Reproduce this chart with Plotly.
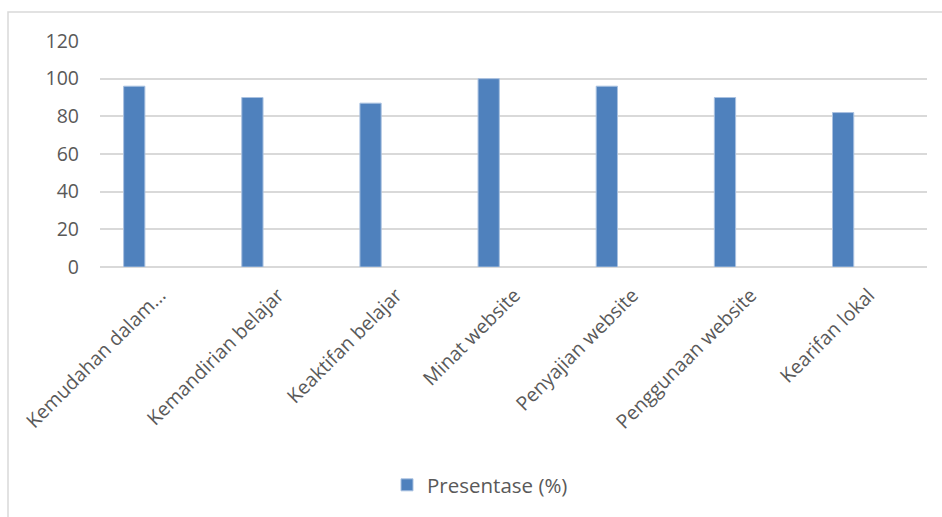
import plotly.graph_objects as go

categories = ["Kemudahan dalam...", "Kemandirian belajar", "Keaktifan belajar",
              "Minat website", "Penyajian website", "Penggunaan website", "Kearifan lokal"]
values = [96, 90, 87, 100, 96, 90, 82]
series_name = "Presentase (%)"
y_ticks = [0, 20, 40, 60, 80, 100, 120]

FONT = "Open Sans"
TXT = "#595959"
GRID = "#d9d9d9"
FS = 19.5

L, R, T, B = 100, 15, 41, 250
W, H = 942, 517
pw, ph = W - L - R, H - T - B

fig = go.Figure()
fig.add_trace(go.Bar(
    x=categories, y=values, name=series_name,
    marker=dict(color="#4f81bd", line=dict(color="#a9c1e0", width=1)),
    width=0.18, offset=-0.30, showlegend=True,
))

fig.update_layout(
    width=W, height=H,
    margin=dict(l=L, r=R, t=T, b=B, pad=0),
    paper_bgcolor="white", plot_bgcolor="white",
    font=dict(family=FONT, color=TXT, size=FS),
    showlegend=True,
    legend=dict(orientation="h", x=(480 - L) / pw, xanchor="center",
                y=(T + ph - 485) / ph, yanchor="middle",
                font=dict(size=20.5, color=TXT), itemwidth=30,
                bgcolor="rgba(0,0,0,0)"),
    xaxis=dict(
        tickangle=-45, showgrid=False, showline=False, zeroline=False,
        ticks="", tickfont=dict(size=FS, color=TXT),
        ticklabelshift=1, ticklabelstandoff=12,
        fixedrange=True,
    ),
    yaxis=dict(
        range=[0, 120], tickvals=y_ticks, showgrid=True, gridcolor=GRID,
        gridwidth=1.5, zeroline=True, zerolinecolor=GRID, zerolinewidth=1.5,
        showline=False, ticks="", tickfont=dict(size=FS, color=TXT),
        ticklabelstandoff=20,
    ),
    shapes=[dict(type="rect", xref="paper", yref="paper",
                 x0=(8 - L) / pw, x1=(960 - L) / pw,
                 y0=(T + ph - 540) / ph, y1=1 + (T - 12) / ph,
                 line=dict(color=GRID, width=1.5), layer="below")],
)

fig.write_html("out.html")
